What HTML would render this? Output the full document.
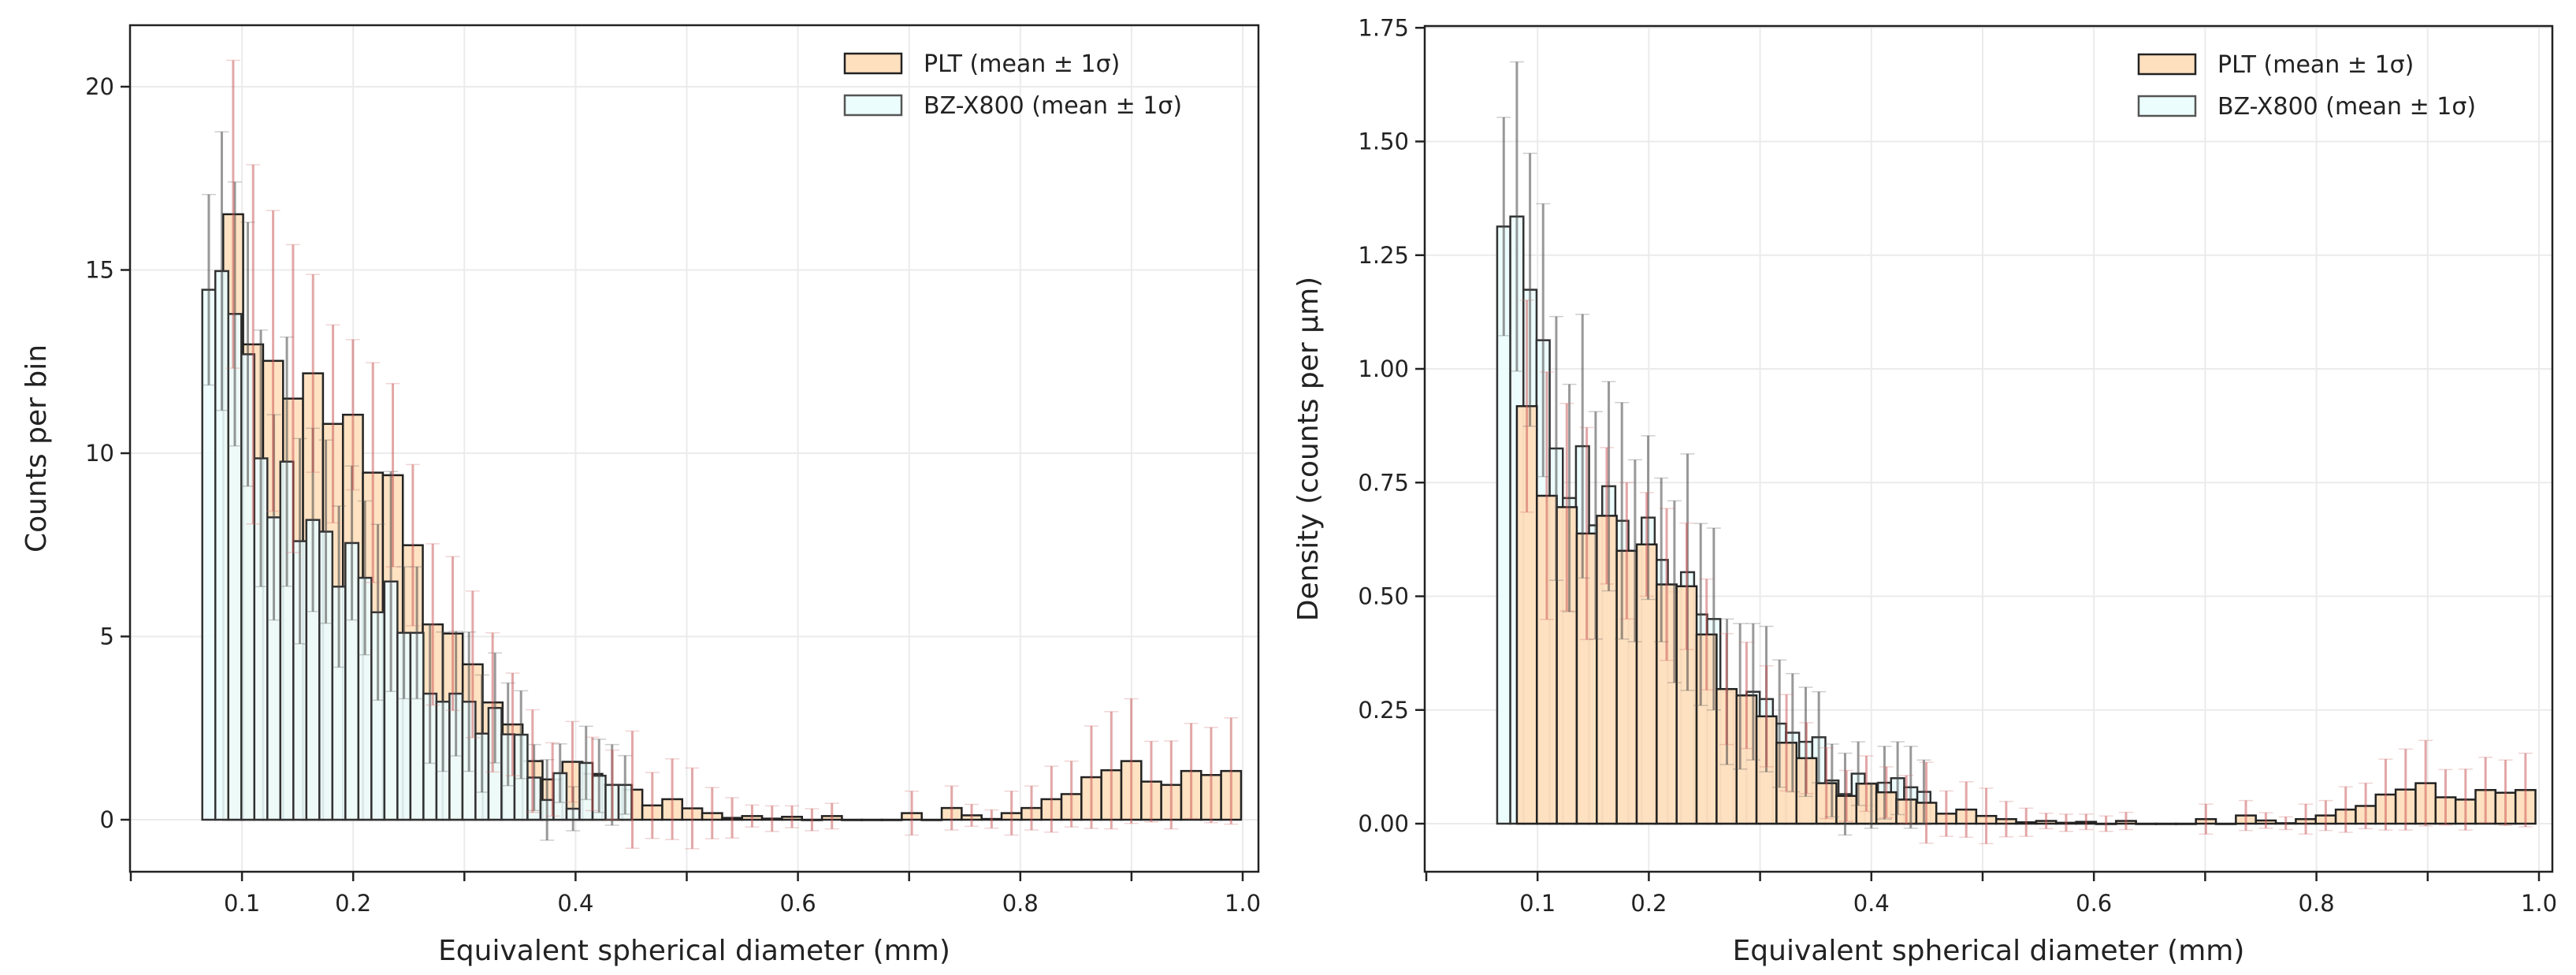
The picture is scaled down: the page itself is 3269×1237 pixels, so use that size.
<!DOCTYPE html>
<html><head><meta charset="utf-8"><style>
html,body{margin:0;padding:0;background:#fff;}
svg{display:block;font-family:"DejaVu Sans","Liberation Sans",sans-serif;}
</style></head><body>
<svg id="fig" width="3269" height="1237" viewBox="0 0 3269 1237" xmlns="http://www.w3.org/2000/svg"></svg>
<script>
// ---- data (left: counts per bin) ----
const pltStartL = 0.0831, pltWidth = 0.01795;
const bzStartL = 0.0643, bzWidth = 0.0117;
const pltCounts = [16.52,12.97,12.52,11.49,12.18,10.8,11.05,9.47,9.4,7.49,5.33,5.08,4.24,3.2,2.6,1.6,1.1,1.58,1.25,0.95,0.82,0.39,0.56,0.31,0.18,0.05,0.1,0.03,0.08,0,0.1,0,0,0,0.18,0,0.32,0.12,0.02,0.18,0.32,0.56,0.7,1.16,1.35,1.6,1.04,0.95,1.33,1.22,1.33];
const pltCountsErr = [4.2,4.9,4.1,4.2,2.7,2.7,2.05,3.0,2.5,2.2,2.2,2.1,2.0,1.9,1.4,1.4,1.0,1.1,1.0,0.95,1.6,0.9,1.1,1.1,0.7,0.55,0.3,0.35,0.3,0.3,0.35,0,0,0,0.6,0,0.6,0.3,0.25,0.6,0.6,0.9,0.9,1.4,1.6,1.7,1.1,1.2,1.3,1.3,1.45];
const bzCounts = [14.46,14.97,13.8,12.7,9.86,8.25,9.77,7.6,8.18,7.86,6.36,7.55,6.6,5.66,6.5,5.1,5.1,3.44,3.22,3.44,3.22,2.35,3.05,2.33,2.32,1.15,0.54,1.27,0.3,1.55,1.2,0.95,0.95];
const bzCountsErr = [2.6,3.8,3.6,3.6,3.5,2.8,3.4,2.8,2.5,2.5,2.2,2.1,2.1,2.4,3.0,1.8,1.8,1.9,1.9,1.7,1.9,1.6,1.5,1.4,1.2,0.9,1.1,0.8,0.6,1.0,1.0,1.1,0.8];
// ---- data (right: density per um) ----
const pltStartR = 0.0814, bzStartR = 0.0637, bzWidthR = 0.0118;
const pltDens = [0.918,0.721,0.696,0.638,0.677,0.6,0.614,0.526,0.522,0.416,0.296,0.282,0.236,0.178,0.144,0.089,0.061,0.088,0.069,0.053,0.046,0.022,0.031,0.017,0.01,0.003,0.006,0.002,0.004,0,0.006,0,0,0,0.01,0,0.018,0.007,0.001,0.01,0.018,0.031,0.039,0.064,0.075,0.089,0.058,0.053,0.074,0.068,0.074];
const pltDensErr = [0.233,0.272,0.228,0.233,0.15,0.15,0.114,0.167,0.139,0.122,0.122,0.117,0.111,0.106,0.078,0.078,0.056,0.061,0.056,0.053,0.089,0.05,0.061,0.061,0.039,0.031,0.017,0.019,0.017,0.017,0.019,0,0,0,0.033,0,0.033,0.017,0.014,0.033,0.033,0.05,0.05,0.078,0.089,0.094,0.061,0.067,0.072,0.072,0.081];
const bzDens = [1.313,1.335,1.174,1.063,0.825,0.716,0.83,0.656,0.742,0.666,0.6,0.673,0.58,0.51,0.553,0.46,0.45,0.29,0.28,0.29,0.274,0.22,0.2,0.18,0.19,0.095,0.065,0.11,0.04,0.09,0.1,0.08,0.07];
const bzDensErr = [0.24,0.34,0.30,0.30,0.29,0.25,0.29,0.25,0.23,0.26,0.2,0.18,0.18,0.2,0.26,0.2,0.2,0.16,0.16,0.15,0.16,0.14,0.13,0.12,0.1,0.08,0.09,0.07,0.05,0.08,0.08,0.09,0.07];
const xTicks = [0,0.1,0.2,0.3,0.4,0.5,0.6,0.7,0.8,0.9,1.0];
const xTickLabels = ["","0.1","0.2","","0.4","","0.6","","0.8","","1.0"];
const yTicksL = [0,5,10,15,20];
const yTickLabelsL = ["0","5","10","15","20"];
const yTicksR = [0,0.25,0.5,0.75,1.0,1.25,1.5,1.75];
const yTickLabelsR = ["0.00","0.25","0.50","0.75","1.00","1.25","1.50","1.75"];

const NS = "http://www.w3.org/2000/svg";
const svg = document.getElementById('fig');
function mk(tag, attrs, parent){
  const e = document.createElementNS(NS, tag);
  for (const k in attrs) e.setAttribute(k, attrs[k]);
  (parent||svg).appendChild(e);
  return e;
}

function panel(cfg){
  const g = mk('g', {});
  
  
  const X = v => cfg.x0 + v*cfg.xs;
  const Y = v => cfg.y0 - v*cfg.ys;
  const grid = mk('g', {}, g);
  
  
  xTicks.forEach(t => { if (t>0) mk('line', {x1:X(t),x2:X(t),y1:cfg.top,y2:cfg.bottom,stroke:'#ebebeb','stroke-width':2}, grid); });
  cfg.yTicks.forEach(t => mk('line', {x1:cfg.left,x2:cfg.right,y1:Y(t),y2:Y(t),stroke:'#ebebeb','stroke-width':2}, grid));

  function bars(name, start, w, vals, fill, op, stroke){
    const bg = mk('g', {}, g);
    
    
    vals.forEach((v,i) => {
      const xa = X(start + i*w), xb = X(start + (i+1)*w);
      const r = mk('rect', {x:xa, y:Y(v), width:xb-xa, height:Math.max(Y(0)-Y(v),0.5), fill:fill, 'fill-opacity':op, stroke:stroke, 'stroke-width':2.5}, bg);
      
      
    });
  }
  function errs(name, start, w, vals, er, col, capCol){
    const eg = mk('g', {}, g);
    
    
    vals.forEach((v,i) => {
      if (!er[i]) return;
      const cx = X(start + (i+0.5)*w);
      mk('line', {x1:cx,x2:cx,y1:Y(v-er[i]),y2:Y(v+er[i]),stroke:col,'stroke-width':3}, eg);
      mk('line', {x1:cx-9,x2:cx+9,y1:Y(v+er[i]),y2:Y(v+er[i]),stroke:capCol,'stroke-width':1.5}, eg);
      mk('line', {x1:cx-9,x2:cx+9,y1:Y(v-er[i]),y2:Y(v-er[i]),stroke:capCol,'stroke-width':1.5}, eg);
    });
  }
  const pltCol = '#fee0bf', bzCol = '#ecfdfd';
  if (cfg.bzOnTop){
    bars('plt-bars', cfg.pS, pltWidth, cfg.plt, pltCol, 0.95, '#222');
    bars('bz-bars', cfg.bS, cfg.bW, cfg.bz, bzCol, 0.9, '#333');
  } else {
    bars('bz-bars', cfg.bS, cfg.bW, cfg.bz, bzCol, 0.95, '#333');
    bars('plt-bars', cfg.pS, pltWidth, cfg.plt, pltCol, 0.97, '#222');
  }
  errs('bz-errorbars', cfg.bS, cfg.bW, cfg.bz, cfg.bzE, 'rgba(70,70,70,0.55)', 'rgba(90,90,90,0.3)');
  errs('plt-errorbars', cfg.pS, pltWidth, cfg.plt, cfg.pltE, 'rgba(200,80,80,0.5)', 'rgba(210,110,110,0.3)');

  const fr = mk('rect', {x:cfg.left,y:cfg.top,width:cfg.right-cfg.left,height:cfg.bottom-cfg.top,fill:'none',stroke:'#222','stroke-width':2.5}, g);
  
  
  const xa = mk('g', {}, g);
  
  
  xTicks.forEach((t,i) => {
    mk('line', {x1:X(t),x2:X(t),y1:cfg.bottom,y2:cfg.bottom+12,stroke:'#222','stroke-width':2.5}, xa);
    if (xTickLabels[i]){
      const tx = mk('text', {x:X(t), y:cfg.bottom+50, 'text-anchor':'middle','font-size':29, fill:'#222'}, xa);
      tx.textContent = xTickLabels[i];
      
      
    }
  });
  const xl = mk('text', {x:(cfg.left+cfg.right)/2, y:1218, 'text-anchor':'middle','font-size':36, fill:'#222'}, g);
  xl.textContent = 'Equivalent spherical diameter (mm)';
  
  
  const ya = mk('g', {}, g);
  
  
  cfg.yTicks.forEach((t,i) => {
    mk('line', {x1:cfg.left-12,x2:cfg.left,y1:Y(t),y2:Y(t),stroke:'#222','stroke-width':2.5}, ya);
    const tx = mk('text', {x:cfg.left-20, y:Y(t)+10, 'text-anchor':'end','font-size':29, fill:'#222'}, ya);
    tx.textContent = cfg.yLabels[i];
    
    
  });
  const yl = mk('text', {x:0, y:0, 'text-anchor':'middle','font-size':36, fill:'#222', transform:`translate(${cfg.ylx},${(cfg.top+cfg.bottom)/2}) rotate(-90)`}, g);
  yl.textContent = cfg.ylabel;
  
  
  const lg = mk('g', {}, g);
  
  
  [['PLT (mean \u00b1 1\u03c3)', pltCol, '#222'], ['BZ-X800 (mean \u00b1 1\u03c3)', bzCol, '#555']].forEach((it,k) => {
    const yy = cfg.top + 36 + k*53;
    mk('rect', {x:cfg.legX, y:yy, width:72, height:25, fill:it[1], stroke:it[2], 'stroke-width':2.5}, lg);
    const tx = mk('text', {x:cfg.legX+100, y:yy+23, 'font-size':30, fill:'#222'}, lg);
    tx.textContent = it[0];
    
    
  });
}

panel({name:'counts-panel', left:165, right:1597, top:32, bottom:1106, x0:166, xs:1411, y0:1040, ys:46.5,
  pS:pltStartL, bS:bzStartL, bW:bzWidth, plt:pltCounts, pltE:pltCountsErr, bz:bzCounts, bzE:bzCountsErr,
  yTicks:yTicksL, yLabels:yTickLabelsL, ylabel:'Counts per bin', ylx:58, legX:1072, bzOnTop:true});
panel({name:'density-panel', left:1808, right:3239, top:33, bottom:1106, x0:1810, xs:1412, y0:1045, ys:577,
  pS:pltStartR, bS:bzStartR, bW:bzWidthR, plt:pltDens, pltE:pltDensErr, bz:bzDens, bzE:bzDensErr,
  yTicks:yTicksR, yLabels:yTickLabelsR, ylabel:'Density (counts per \u00b5m)', ylx:1672, legX:2714, bzOnTop:false});
</script>
</body></html>
